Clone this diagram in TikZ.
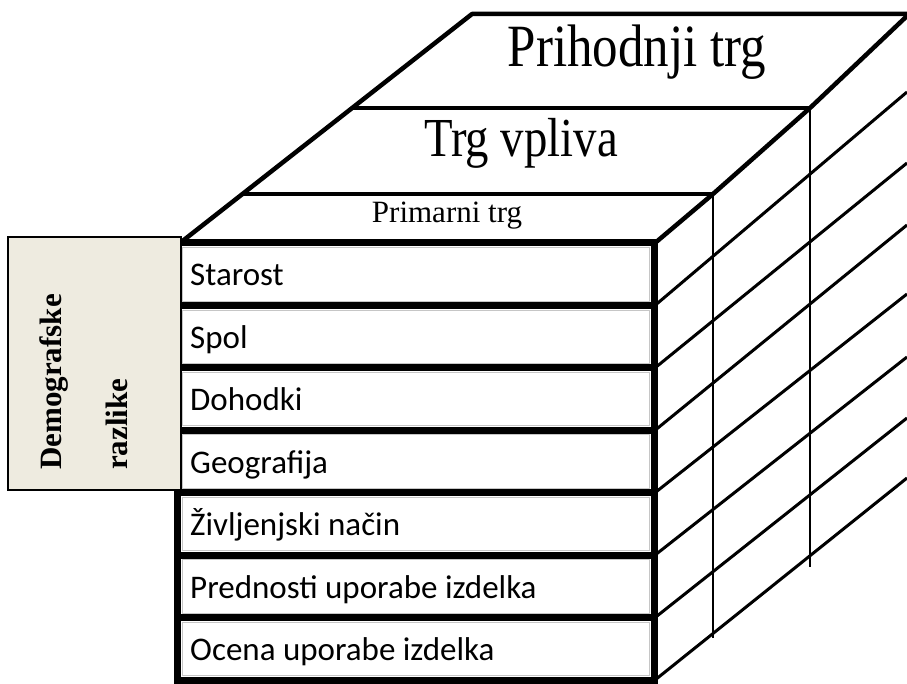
\documentclass[tikz,border=0pt]{standalone}
\usepackage{fontspec}
\setmainfont{Liberation Serif}
\newfontfamily\rowfont{Carlito}
\definecolor{boxbeige}{RGB}{238,235,224}
\begin{document}
\begin{tikzpicture}[x=1pt,y=-1pt,
  thickbar/.style={line width=7pt},
  topline/.style={line width=4.5pt, line join=round},
  sideline/.style={line width=3pt},
  vline/.style={line width=2.5pt},
  rowframe/.style={draw=gray!45, line width=0.8pt, fill=white},
  rowtext/.style={anchor=base west, inner sep=0pt, font=\rowfont\fontsize{33}{40}\selectfont},
  toptext/.style={anchor=base, inner sep=0pt},
  sidebox/.style={draw=black, line width=1.5pt, fill=boxbeige}
]
\useasboundingbox (0,0) rectangle (907,684);

% top face
\coordinate (FL) at (180,243);
\coordinate (FR) at (655,243);
\coordinate (BL) at (472,14);
\coordinate (BR) at (907,16);
\coordinate (P1) at (713,194);
\coordinate (P2) at (810,108);
\draw[topline] (FL) -- (BL) -- (907,14);
\draw[topline] (FR) -- (P1) -- (P2) -- (BR);
\draw[topline] (242,194) -- (P1);
\draw[topline] (352,108) -- (P2);

% right side face
\foreach \ys/\ye in {305.4/92, 367.9/163, 430.3/225, 492.7/294, 555.1/357, 617.6/418, 680/478}
  \draw[sideline] (655,\ys) -- (907,\ye);
\draw[vline] (P1) -- (713,638);
\draw[vline] (P2) -- (810,567);

% front face rows
\foreach \lab [count=\i from 0] in {Starost,Spol,Dohodki,Geografija,Življenjski način,Prednosti uporabe izdelka,Ocena uporabe izdelka}{
  \pgfmathsetmacro\yt{243+62.43*\i}
  \pgfmathsetmacro\yb{243+62.43*(\i+1)}
  \draw[rowframe] (182,\yt+4.5) rectangle (649,\yb-4.5);
  \node[rowtext] (row\i) at (190,\yt+43) {\lab};
}
\draw[thickbar] (177,243) rectangle (654,680);
\foreach \i in {1,...,6}
  \draw[thickbar] (177,243+62.43*\i) -- (654,243+62.43*\i);

% left box
\draw[sidebox] (8,237) rectangle (181,490);
\node[rotate=90, anchor=base west, inner sep=0pt, font=\bfseries\fontsize{31}{36}\selectfont] (demo) at (61,470) {Demografske};
\node[rotate=90, anchor=base west, inner sep=0pt, font=\bfseries\fontsize{31}{36}\selectfont] (razl) at (127,470) {razlike};

% top texts
\node[toptext, xscale=0.85, font=\fontsize{60}{70}\selectfont] (prih) at (637,67) {Prihodnji trg};
\node[toptext, xscale=0.85, font=\fontsize{55}{64}\selectfont] (vpl) at (521,157) {Trg vpliva};
\node[toptext, font=\fontsize{31}{36}\selectfont] (prim) at (447,223) {Primarni trg};
\end{tikzpicture}
\end{document}
